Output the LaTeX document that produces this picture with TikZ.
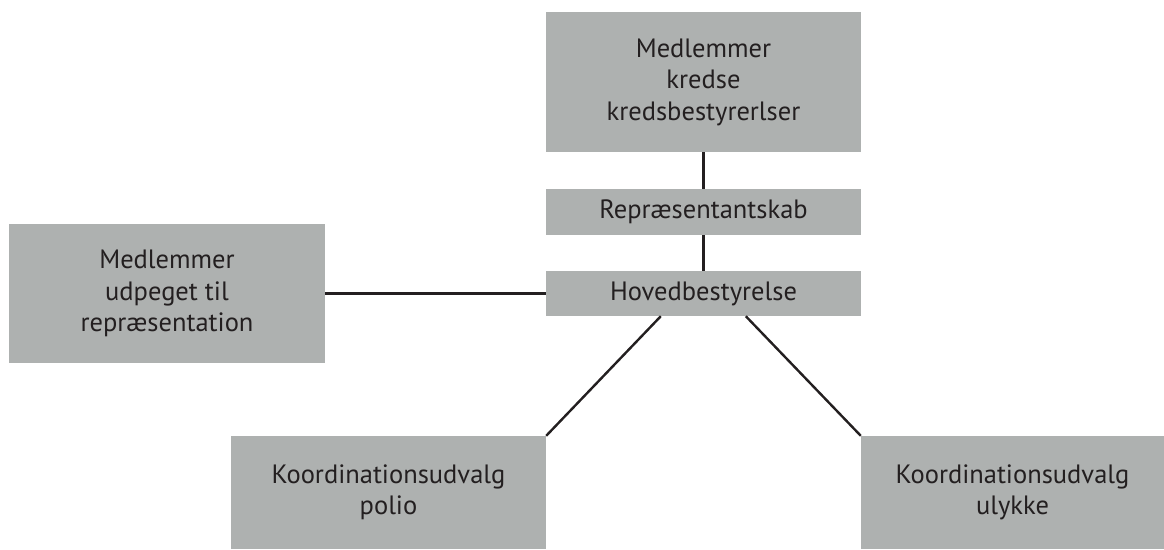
\documentclass[tikz,border=0pt]{standalone}
\usepackage{fontspec}
\setmainfont{PT Sans}
\definecolor{boxgray}{HTML}{AEB1B0}
\definecolor{txt}{HTML}{231F20}
\begin{document}
\begin{tikzpicture}[x=1pt,y=-1pt,
  orgbox/.style={fill=boxgray, draw=none, inner sep=0pt, align=center, text=txt,
     font=\fontsize{26.5}{31.5}\selectfont},
  link/.style={draw=txt, line width=2.4pt}]
\useasboundingbox (0,0) rectangle (1164,549);
\node[orgbox, minimum width=315pt, minimum height=140pt] (top) at (703.5,82) {Medlemmer\\kredse\\kredsbestyrerlser};
\node[orgbox, minimum width=315pt, minimum height=46pt] (rep) at (703.5,212) {Repræsentantskab};
\node[orgbox, minimum width=315pt, minimum height=45pt] (hov) at (703.5,293.5) {Hovedbestyrelse};
\node[orgbox, minimum width=316pt, minimum height=139pt] (left) at (167,293.5) {Medlemmer\\udpeget til\\repræsentation};
\node[orgbox, minimum width=315pt, minimum height=113pt] (bl) at (388.5,492.5) {Koordinationsudvalg\\polio};
\node[orgbox, minimum width=303pt, minimum height=113pt] (br) at (1012.5,492.5) {Koordinationsudvalg\\ulykke};
\draw[link] (top.south) -- (rep.north);
\draw[link] (rep.south) -- (hov.north);
\draw[link] (left.east) -- (hov.west);
\path (hov.south west) ++(115,0) coordinate (h1);
\draw[link] (h1) -- (bl.north east);
\path (hov.south west) ++(200,0) coordinate (h2);
\draw[link] (h2) -- (br.north west);
\end{tikzpicture}
\end{document}
